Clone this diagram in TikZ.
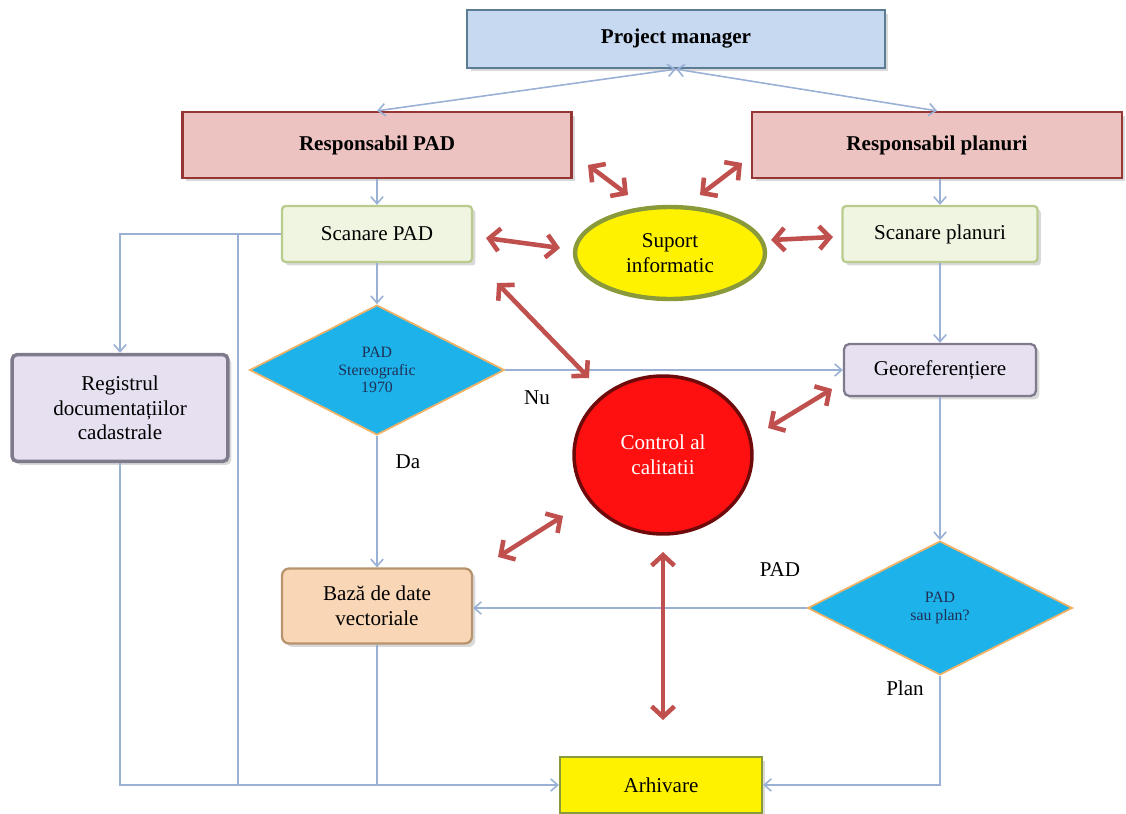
\documentclass[tikz,border=0pt]{standalone}
\usepackage{fontspec}
\setmainfont{Liberation Serif}
\usetikzlibrary{shapes.geometric,arrows.meta,shadows}
\definecolor{pmblue}{HTML}{C6D9F1}
\definecolor{pmedge}{HTML}{5B7C92}
\definecolor{resppink}{HTML}{EDC3C2}
\definecolor{respedge}{HTML}{963634}
\definecolor{scangreen}{HTML}{EFF5E0}
\definecolor{scanedge}{HTML}{B9CC8E}
\definecolor{lavender}{HTML}{E6E0F0}
\definecolor{lavedge}{HTML}{7F7A8C}
\definecolor{peach}{HTML}{F9D6B6}
\definecolor{peachedge}{HTML}{B7936E}
\definecolor{skyfill}{HTML}{1DB3EA}
\definecolor{orangeedge}{HTML}{F2B266}
\definecolor{oliveedge}{HTML}{8A9A3A}
\definecolor{ctrlred}{HTML}{FF1010}
\definecolor{ctrledge}{HTML}{6E0A0A}
\definecolor{connblue}{HTML}{9AB0D4}
\definecolor{arrred}{HTML}{C0504D}
\definecolor{navytext}{HTML}{1F2F55}
\begin{document}
\begin{tikzpicture}[
    x=0.02cm, y=-0.02cm,
    every node/.style={font=\fontsize{12}{14}\selectfont, align=center, inner sep=2pt},
    shbox/.style={rectangle, line width=1.3pt, drop shadow={opacity=0.3, shadow xshift=0.7mm, shadow yshift=-0.7mm}},
    pmbox/.style={shbox, fill=pmblue, draw=pmedge, minimum width=8.36cm, minimum height=1.16cm, font=\bfseries\fontsize{12}{14}\selectfont},
    respbox/.style={shbox, fill=resppink, draw=respedge, minimum height=1.32cm, font=\bfseries\fontsize{12}{14}\selectfont},
    scanbox/.style={shbox, rounded corners=2pt, fill=scangreen, draw=scanedge, minimum height=1.12cm},
    lavbox/.style={shbox, rounded corners=3pt, fill=lavender, draw=lavedge},
    decide/.style={diamond, fill=skyfill, draw=orangeedge, line width=1pt, inner sep=0pt, text=navytext, font=\fontsize{9}{10}\selectfont},
    conn/.style={draw=connblue, line width=0.9pt, -{Straight Barb[length=4pt,width=7pt]}},
    conn2/.style={draw=connblue, line width=0.9pt, {Straight Barb[length=4pt,width=7pt]}-{Straight Barb[length=4pt,width=7pt]}},
    twoway/.style={draw=arrred, line width=2.6pt, {Straight Barb[length=6pt,width=13pt]}-{Straight Barb[length=6pt,width=13pt]}},
    lbl/.style={inner sep=0pt},
]
  \useasboundingbox (0,0) rectangle (1126,814);

  % boxes
  \node [pmbox]                                          (pm)       at (676, 39)  {Project manager};
  \node [respbox, minimum width=7.78cm]                  (respad)   at (377,145)  {Responsabil PAD};
  \node [respbox, minimum width=7.4cm]                   (resplan)  at (937,145)  {Responsabil planuri};
  \node [scanbox, minimum width=3.8cm]                   (scanpad)  at (377,234)  {Scanare PAD};
  \node [scanbox, minimum width=3.9cm]                   (scanplan) at (940,234)  {Scanare planuri};
  \node [ellipse, fill=yellow, draw=oliveedge, line width=2.5pt,
         minimum width=3.8cm, minimum height=1.84cm]     (suport)   at (670,253)  {Suport\\informatic};
  \node [decide, minimum width=5.1cm, minimum height=2.6cm] (stereo) at (377,370)  {PAD\\Stereografic\\1970};
  \node [lavbox, line width=2pt, minimum width=4.32cm, minimum height=2.14cm]
                                                         (registru) at (120,408)  {Registrul\\documentațiilor\\cadastrale};
  \node [lavbox, minimum width=3.84cm, minimum height=1.04cm] (georef) at (940,370) {Georeferențiere};
  \node [ellipse, fill=ctrlred, draw=ctrledge, line width=2pt, text=white,
         minimum width=3.56cm, minimum height=3.16cm]    (control)  at (663,455)  {Control al\\calitatii};
  \node [shbox, rounded corners=4pt, fill=peach, draw=peachedge,
         minimum width=3.8cm, minimum height=1.5cm]      (baza)     at (377,606)  {Bază de date\\vectoriale};
  \node [decide, minimum width=5.3cm, minimum height=2.68cm] (padplan) at (940,608) {PAD\\sau plan?};
  \node [shbox, fill=yellow, draw=oliveedge, minimum width=4.04cm, minimum height=1.12cm]
                                                         (arhiv)    at (661,785)  {Arhivare};

  % labels
  \node [lbl] (nu)   at (537,398) {Nu};
  \node [lbl] (da)   at (408,462) {Da};
  \node [lbl] (pad)  at (780,570) {PAD};
  \node [lbl] (plan) at (905,688) {Plan};

  % blue connectors
  \draw [conn2] (pm.south) -- (respad.north);
  \draw [conn2] (pm.south) -- (resplan.north);
  \draw [conn] (respad)  -- (scanpad);
  \draw [conn] (resplan.south -| scanplan) -- (scanplan);
  \draw [conn] (scanpad) -- (stereo);
  \draw [conn] (scanpad.west) -| (registru.north);
  \coordinate (split) at (238,234);
  \draw [draw=connblue, line width=0.9pt] (split) -- (split |- arhiv.west);
  \draw [conn] (registru.south) |- (arhiv.west);
  \draw [draw=connblue, line width=0.9pt] (baza.south) -- (baza.south |- arhiv.west);
  \draw [conn] (stereo.east)  -- (georef.west);
  \draw [conn] (stereo.south) -- (baza.north);
  \draw [conn] (scanplan) -- (georef);
  \draw [conn] (georef)   -- (padplan);
  \draw [conn] (padplan.west) -- (baza.east |- padplan.west);
  \draw [conn] (padplan.south) |- (arhiv.east);

  % red two-way arrows
  \coordinate (r1a) at (588,165);  \coordinate (r1b) at (628,195);
  \coordinate (r2a) at (742,163);  \coordinate (r2b) at (700,195);
  \coordinate (r3a) at (486,238);  \coordinate (r3b) at (560,248);
  \coordinate (r4a) at (771,240);  \coordinate (r4b) at (833,237);
  \coordinate (r5a) at (497,283);  \coordinate (r5b) at (589,378);
  \coordinate (r6a) at (768,428);  \coordinate (r6b) at (832,389);
  \coordinate (r7a) at (498,557);  \coordinate (r7b) at (563,516);
  \coordinate (r8a) at (663,552);  \coordinate (r8b) at (663,720);
  \foreach \n in {1,...,8}
    \draw [twoway] (r\n a) -- (r\n b);
\end{tikzpicture}
\end{document}
